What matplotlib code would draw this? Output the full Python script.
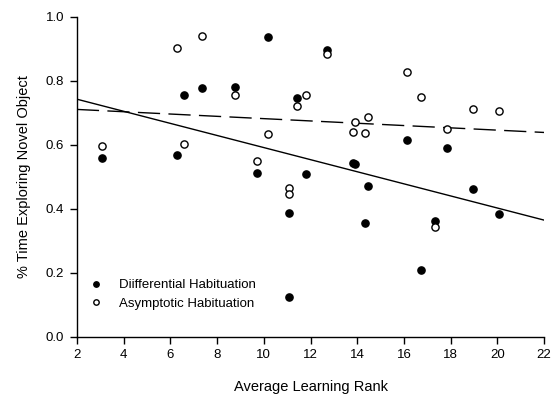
import numpy as np
import matplotlib.pyplot as plt

plt.rcParams['font.family'] = ['Liberation Sans', 'DejaVu Sans']

# average learning rank per animal
rank = [3.06, 6.27, 6.57, 7.37, 8.77, 9.70, 10.20, 11.10, 11.10, 11.42, 11.80,
        12.70, 13.82, 13.92, 14.32, 14.44, 16.13, 16.73, 17.33, 17.85, 18.94, 20.05]
# % time exploring novel object
diff_hab = [0.557, 0.567, 0.754, 0.776, 0.779, 0.510, 0.936, 0.387, 0.124, 0.746, 0.507,
            0.895, 0.544, 0.538, 0.356, 0.471, 0.614, 0.209, 0.361, 0.590, 0.460, 0.382]
asym_hab = [0.597, 0.902, 0.602, 0.940, 0.754, 0.548, 0.633, 0.463, 0.445, 0.721, 0.755,
            0.883, 0.639, 0.672, 0.635, 0.686, 0.826, 0.749, 0.341, 0.648, 0.710, 0.704]

# regression lines
fit_x = [2, 22]
diff_fit = [0.742, 0.364]
asym_fit = [0.710, 0.638]

fig = plt.figure(figsize=(5.53, 3.96), dpi=100)
ax = fig.add_axes([0.139, 0.150, 0.845, 0.808])

ax.plot(fit_x, diff_fit, color='black', lw=1.0)
ax.plot(fit_x, asym_fit, color='black', lw=1.0, dashes=(16, 6))

ax.plot(rank, diff_hab, 'o', color='black', markersize=5.2, ls='none',
        label='Diifferential Habituation')
ax.plot(rank, asym_hab, 'o', markerfacecolor='white', markeredgecolor='black',
        markeredgewidth=1.0, markersize=5.2, ls='none', label='Asymptotic Habituation')

ax.set_xlim(2, 22)
ax.set_ylim(0, 1.0)
ax.set_xticks(np.arange(2, 23, 2))
ax.set_yticks(np.arange(0, 1.01, 0.2))
ax.set_yticklabels(['%.1f' % v for v in np.arange(0, 1.01, 0.2)])

for s in ['top', 'right']:
    ax.spines[s].set_visible(False)
for s in ['left', 'bottom']:
    ax.spines[s].set_linewidth(1.0)
ax.tick_params(direction='out', length=5, width=1.0, labelsize=9.5, pad=4)

ax.set_xlabel('Average Learning Rank', fontsize=10.5, labelpad=13.5)
ax.set_ylabel('% Time Exploring Novel Object', fontsize=10.5, labelpad=11)

ax.legend(loc='lower left', bbox_to_anchor=(-0.013, 0.046), frameon=False,
          fontsize=9.5, handletextpad=0.75, labelspacing=0.5, borderaxespad=0.5,
          markerscale=0.75)

fig.savefig('out.png', dpi=100)
